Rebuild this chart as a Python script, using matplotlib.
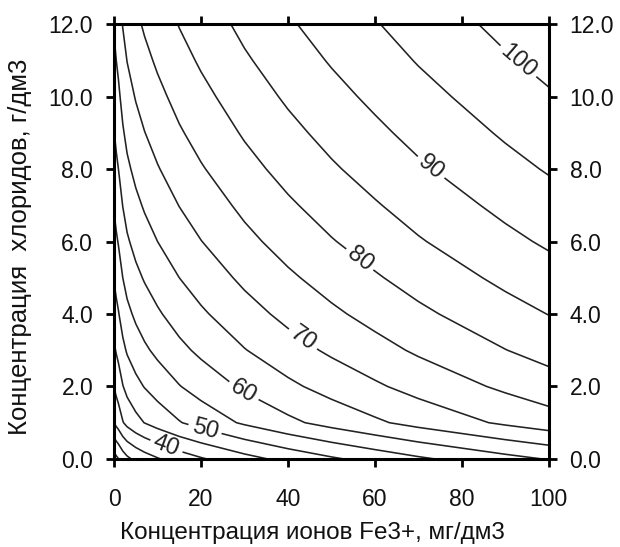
import numpy as np
import matplotlib
matplotlib.use("Agg")
import matplotlib.pyplot as plt
from matplotlib.ticker import FormatStrFormatter

# grid
fe_conc = [0, 0.5, 1, 2, 3, 5, 7, 10, 15, 20, 30, 40, 50, 60, 70, 80, 90, 100]
chloride = [0, 1, 2, 3, 4, 5, 6, 7, 8, 9, 10, 11, 12]
rate = [
    [22.7, 23.9, 24.9, 27.3, 29.0, 31.1, 32.7, 34.6, 37.3, 39.5, 43.3, 46.5, 49.3, 51.8, 54.2, 56.3, 58.4, 60.3],
    [35.1, 36.3, 37.3, 39.7, 41.4, 43.5, 45.1, 47.0, 49.7, 51.9, 55.7, 58.9, 61.7, 64.2, 66.6, 68.7, 70.8, 72.7],
    [40.2, 41.4, 42.4, 44.8, 46.5, 48.6, 50.2, 52.1, 54.8, 57.0, 60.8, 64.0, 66.8, 69.3, 71.7, 73.8, 75.9, 77.8],
    [44.2, 45.4, 46.4, 48.8, 50.5, 52.6, 54.2, 56.1, 58.8, 61.0, 64.8, 68.0, 70.8, 73.3, 75.7, 77.8, 79.9, 81.8],
    [47.5, 48.7, 49.7, 52.1, 53.8, 55.9, 57.5, 59.4, 62.1, 64.3, 68.1, 71.3, 74.1, 76.6, 79.0, 81.1, 83.2, 85.1],
    [50.4, 51.6, 52.6, 55.0, 56.7, 58.8, 60.4, 62.3, 65.0, 67.2, 71.0, 74.2, 77.0, 79.5, 81.9, 84.0, 86.1, 88.0],
    [53.1, 54.3, 55.3, 57.7, 59.4, 61.5, 63.1, 65.0, 67.7, 69.9, 73.7, 76.9, 79.7, 82.2, 84.6, 86.7, 88.8, 90.7],
    [55.5, 56.7, 57.7, 60.1, 61.8, 63.9, 65.5, 67.4, 70.1, 72.3, 76.1, 79.3, 82.1, 84.6, 87.0, 89.1, 91.2, 93.1],
    [57.8, 59.0, 60.0, 62.4, 64.1, 66.2, 67.8, 69.7, 72.4, 74.6, 78.4, 81.6, 84.4, 86.9, 89.3, 91.4, 93.5, 95.4],
    [59.9, 61.1, 62.1, 64.5, 66.2, 68.3, 69.9, 71.8, 74.5, 76.7, 80.5, 83.7, 86.5, 89.0, 91.4, 93.5, 95.6, 97.5],
    [61.9, 63.1, 64.1, 66.5, 68.2, 70.3, 71.9, 73.8, 76.5, 78.7, 82.5, 85.7, 88.5, 91.0, 93.4, 95.5, 97.6, 99.5],
    [63.8, 65.0, 66.0, 68.4, 70.1, 72.2, 73.8, 75.7, 78.4, 80.6, 84.4, 87.6, 90.4, 92.9, 95.3, 97.4, 99.5, 101.4],
    [65.6, 66.8, 67.8, 70.2, 71.9, 74.0, 75.6, 77.5, 80.2, 82.4, 86.2, 89.4, 92.2, 94.7, 97.1, 99.2, 101.3, 103.2],
]
levels = [25, 30, 35, 40, 45, 50, 55, 60, 65, 70, 75, 80, 85, 90, 95, 100]
# label spots (on the 40, 50, ..., 100 lines)
label_pos = [(12, 0.34), (21, 0.86), (29.7, 1.85), (44, 3.4), (56.5, 5.5), (72.6, 8.0), (92.5, 10.9)]

plt.rcParams['font.family'] = ['Liberation Sans', 'DejaVu Sans']

fig = plt.figure(figsize=(6.2, 5.47), dpi=100)
ax = fig.add_axes([0.184, 0.161, 0.701, 0.795])

X, Y = np.meshgrid(fe_conc, chloride)
cs = ax.contour(X, Y, np.array(rate), levels=levels, colors='#222222', linewidths=1.15)
ax.clabel(cs, manual=label_pos, inline=True, fmt='%d', fontsize=17, inline_spacing=4)

ax.set_xlim(0, 100)
ax.set_ylim(0, 12)
ax.set_xticks([0, 20, 40, 60, 80, 100])
ax.set_yticks([0, 2, 4, 6, 8, 10, 12])
ax.yaxis.set_major_formatter(FormatStrFormatter('%.1f'))
ax.tick_params(direction='out', length=6, width=2, labelsize=16.5, pad=9,
               top=True, right=True, labelright=True, labelcolor='#111111')
ax.tick_params(axis='x', pad=15)
for s in ax.spines.values():
    s.set_linewidth(2.2)

ax.set_xlabel('Концентрация ионов Fe3+, мг/дм3', fontsize=17.5, color='#111111', va='top')
ax.set_ylabel('Концентрация  хлоридов, г/дм3', fontsize=18.5, color='#111111')
ax.xaxis.set_label_coords(0.457, -0.145)
ax.yaxis.set_label_coords(-0.19, 0.487)

fig.savefig('out.png', dpi=100)
